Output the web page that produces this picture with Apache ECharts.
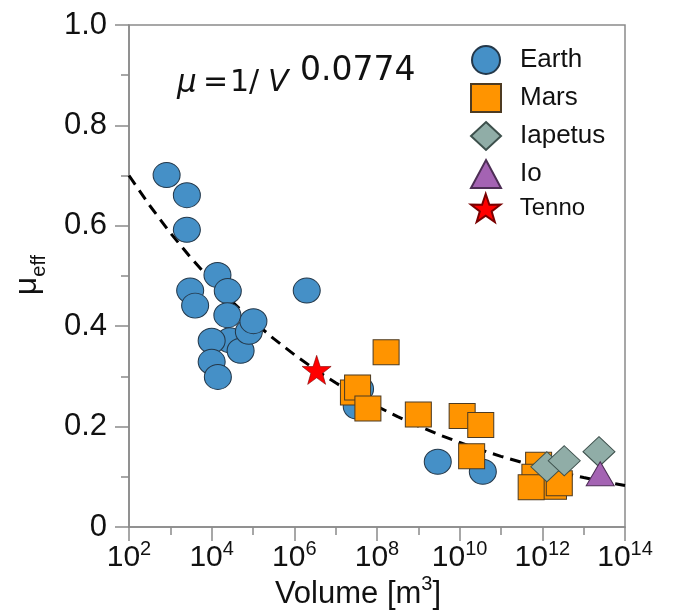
<!DOCTYPE html>
<html>
<head>
<meta charset="utf-8">
<script src="https://cdn.jsdelivr.net/npm/echarts@6/dist/echarts.min.js"></script>
<style>
  html, body { margin: 0; padding: 0; background: #fff; }
  #chart { width: 673px; height: 615px; }
</style>
</head>
<body>
<div id="chart"></div>
<script>
// Effective friction coefficient versus deposit volume (log10 of volume in m^3).
const earthLogV = [2.91, 3.40, 3.40, 3.48, 3.60, 4.14, 4.39, 4.38, 4.44, 4.00, 4.00, 4.15, 4.70, 4.90, 5.01, 6.30, 7.51, 7.59, 9.47, 10.56];
const earthMu   = [0.701, 0.661, 0.592, 0.471, 0.441, 0.502, 0.470, 0.422, 0.372, 0.371, 0.329, 0.299, 0.351, 0.389, 0.410, 0.471, 0.240, 0.275, 0.130, 0.110];

const marsLogV = [8.22, 7.43, 7.53, 7.78, 9.00, 10.06, 10.51, 10.29, 11.91, 11.82, 12.27, 12.41, 11.73];
const marsMu   = [0.348, 0.268, 0.278, 0.236, 0.224, 0.221, 0.203, 0.141, 0.124, 0.100, 0.080, 0.087, 0.079];

const iapetusLogV = [12.11, 12.53, 13.37];
const iapetusMu   = [0.120, 0.132, 0.150];

const ioLogV = [13.40];
const ioMu   = [0.106];

const tennoLogV = [6.54];
const tennoMu   = [0.313];

// Power-law fit mu = 1 / V^0.0774, drawn across the axis range
const fitExponent = 0.0774;
const fitLogV = [2, 2.5, 3, 3.5, 4, 4.5, 5, 5.5, 6, 6.5, 7, 7.5, 8, 8.5, 9, 9.5, 10, 10.5, 11, 11.5, 12, 12.5, 13, 13.5, 14];

const yTickLabels = { 0: '0', 0.2: '0.2', 0.4: '0.4', 0.6: '0.6', 0.8: '0.8', 1: '1.0' };
const bodyNames = ['Earth', 'Mars', 'Iapetus', 'Io'];
const siteNames = ['Tenno'];

const zip = (xs, ys) => xs.map((x, i) => [x, ys[i]]);
const STAR = 'path://M50,0 L61.8,35.1 L97.6,34.5 L69,56.1 L79.4,90.5 L50,70 L20.6,90.5 L31,56.1 L2.4,34.5 L38.2,35.1 Z';
const FONT = 'Liberation Sans, Arial, sans-serif';
const EQ_FONT = 'DejaVu Sans';

const legendBase = {
  orient: 'vertical',
  left: 465,
  itemWidth: 30, itemHeight: 28, itemGap: 8,
  textStyle: { fontFamily: FONT, fontSize: 26, lineHeight: 28, color: '#111', padding: [0, 0, 0, 14] }
};

const chart = echarts.init(document.getElementById('chart'), null, { renderer: 'canvas' });

chart.setOption({
  animation: false,
  backgroundColor: '#fff',
  grid: { left: 129, right: 48, top: 25, bottom: 88, show: true, borderColor: '#8a8a8a', borderWidth: 1.5, containLabel: false },
  xAxis: {
    type: 'value', min: 2, max: 14, interval: 2,
    axisLine: { show: true, lineStyle: { color: '#8a8a8a', width: 1.5 } },
    axisTick: { show: true, inside: false, length: 14, lineStyle: { color: '#8a8a8a', width: 1.5 } },
    minorTick: { show: true, splitNumber: 2, length: 8, lineStyle: { color: '#8a8a8a', width: 1.5 } },
    splitLine: { show: false },
    axisLabel: {
      margin: 12,
      formatter: v => '{b|10}{s|' + v + '}',
      rich: {
        b: { fontFamily: FONT, fontSize: 30, lineHeight: 30, color: '#111', padding: [4, 0, 0, 0], verticalAlign: 'top' },
        s: { fontFamily: FONT, fontSize: 20, lineHeight: 20, color: '#111', verticalAlign: 'top' }
      }
    }
  },
  yAxis: {
    type: 'value', min: 0, max: 1, interval: 0.2,
    axisLine: { show: true, lineStyle: { color: '#8a8a8a', width: 1.5 } },
    axisTick: { show: true, inside: false, length: 14, lineStyle: { color: '#8a8a8a', width: 1.5 } },
    minorTick: { show: true, splitNumber: 2, length: 8, lineStyle: { color: '#8a8a8a', width: 1.5 } },
    splitLine: { show: false },
    axisLabel: {
      margin: 22, fontFamily: FONT, fontSize: 31, color: '#111',
      formatter: v => yTickLabels[Math.round(v * 10) / 10] ?? ''
    }
  },
  legend: [
    Object.assign({}, legendBase, { data: bodyNames, top: 40 }),
    Object.assign({}, legendBase, { data: siteNames, top: 188,
      textStyle: Object.assign({}, legendBase.textStyle, { fontSize: 24 }) })
  ],
  series: [
    {
      name: 'fit', type: 'line', z: 1, silent: true,
      data: fitLogV.map(e => [e, Math.pow(10, -fitExponent * e)]),
      showSymbol: false, smooth: false,
      lineStyle: { color: '#000', width: 3, type: [11, 7] }
    },
    {
      name: 'Earth', type: 'scatter', z: 2, symbol: 'circle', symbolSize: [27, 25],
      data: zip(earthLogV, earthMu),
      itemStyle: { color: '#4590c7', borderColor: '#24384a', borderWidth: 1, opacity: 1 }
    },
    {
      name: 'Mars', type: 'scatter', z: 3, symbol: 'rect', symbolSize: [26, 25],
      data: zip(marsLogV, marsMu),
      itemStyle: { color: '#ff9400', borderColor: '#4d3b22', borderWidth: 1, opacity: 1 }
    },
    {
      name: 'Iapetus', type: 'scatter', z: 4, symbol: 'diamond', symbolSize: [32, 30],
      data: zip(iapetusLogV, iapetusMu),
      itemStyle: { color: '#90ada7', borderColor: '#3d504c', borderWidth: 1, opacity: 1 }
    },
    {
      name: 'Io', type: 'scatter', z: 4, symbol: 'triangle', symbolSize: [28, 24],
      data: zip(ioLogV, ioMu),
      itemStyle: { color: '#a463b3', borderColor: '#4d2e55', borderWidth: 1, opacity: 1 }
    },
    {
      name: 'Tenno', type: 'scatter', z: 5, symbol: STAR, symbolSize: 29,
      data: zip(tennoLogV, tennoMu),
      itemStyle: { color: '#ff0000', borderColor: '#7a0000', borderWidth: 0.6, opacity: 1 }
    }
  ],
  graphic: [
    {
      type: 'text', left: 177, top: 68, z: 10,
      style: {
        text: '{m|μ}{e|=}{o|1}{d|/}{v|V}',
        rich: {
          m: { fontFamily: EQ_FONT, fontStyle: 'italic', fontSize: 31, width: 26, lineHeight: 34, fill: '#111' },
          e: { fontFamily: EQ_FONT, fontSize: 30, width: 27, lineHeight: 34, fill: '#111' },
          o: { fontFamily: EQ_FONT, fontSize: 30, width: 19, lineHeight: 34, fill: '#111' },
          d: { fontFamily: EQ_FONT, fontSize: 30, width: 19, lineHeight: 34, fill: '#111' },
          v: { fontFamily: EQ_FONT, fontStyle: 'italic', fontSize: 30, width: 30, lineHeight: 34, fill: '#111' }
        }
      }
    },
    {
      type: 'text', left: 300, top: 55, z: 10,
      style: { text: '0.0774', fontFamily: EQ_FONT, fontSize: 33, fill: '#111' }
    },
    {
      type: 'text', x: 28, y: 275, rotation: Math.PI / 2, z: 10,
      style: {
        text: '{m|μ}{s|eff}', align: 'center', verticalAlign: 'middle',
        rich: {
          m: { fontFamily: FONT, fontSize: 32, lineHeight: 34, verticalAlign: 'top', fill: '#111' },
          s: { fontFamily: FONT, fontSize: 20, lineHeight: 20, verticalAlign: 'top', padding: [18, 0, 0, 0], fill: '#111' }
        }
      }
    },
    {
      type: 'text', x: 358, y: 590, z: 10,
      style: {
        text: '{a|Volume [m}{s|3}{a|]}', align: 'center', verticalAlign: 'middle',
        rich: {
          a: { fontFamily: FONT, fontSize: 31, lineHeight: 31, padding: [4, 0, 0, 0], verticalAlign: 'top', fill: '#111' },
          s: { fontFamily: FONT, fontSize: 20, lineHeight: 20, verticalAlign: 'top', fill: '#111' }
        }
      }
    }
  ]
});
</script>
</body>
</html>
